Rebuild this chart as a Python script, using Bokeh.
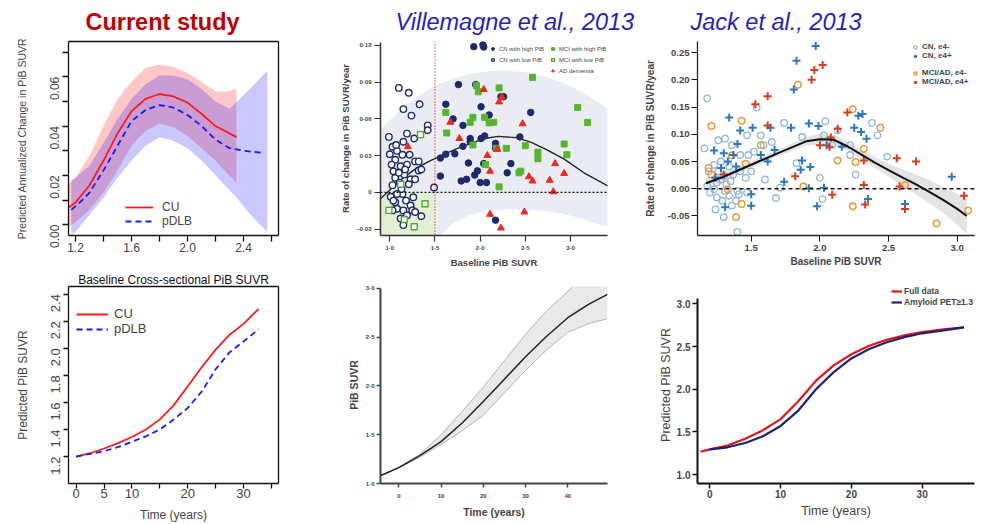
import math
from bokeh.plotting import figure
from bokeh.layouts import row, column
from bokeh.models import (FixedTicker, Legend, LegendItem, Range1d, Span, LinearAxis,
                          NumeralTickFormatter, CustomJSTickFormatter)
from bokeh.embed import file_html
from bokeh.resources import INLINE

SANS = "Liberation Sans"
INK = "#111111"   # near-black stroke colour

# ---------------- Current study: annualized change vs baseline SUVR ----------
cu_x = [1.15, 1.2, 1.3, 1.4, 1.5, 1.6, 1.7, 1.8, 1.9, 2.0, 2.1, 2.2, 2.35]
cu_y = [0.007, 0.009, 0.016, 0.026, 0.037, 0.046, 0.051, 0.053, 0.052, 0.0495, 0.045, 0.040, 0.0355]
cu_band_x = [1.15, 1.2, 1.3, 1.4, 1.5, 1.6, 1.7, 1.8, 1.9, 2.0, 2.1, 2.2, 2.28, 2.35]
cu_band_hi = [0.0165, 0.019, 0.028, 0.040, 0.051, 0.058, 0.0635, 0.065, 0.064, 0.0615, 0.058, 0.054, 0.054, 0.055]
cu_band_lo = [-0.001, 0.001, 0.006, 0.013, 0.022, 0.032, 0.038, 0.041, 0.0395, 0.036, 0.031, 0.026, 0.021, 0.017]

dlb_x = [1.17, 1.25, 1.3, 1.4, 1.5, 1.6, 1.7, 1.8, 1.9, 2.0, 2.1, 2.2, 2.3, 2.4, 2.55]
dlb_y = [0.006, 0.010, 0.013, 0.022, 0.032, 0.042, 0.0465, 0.0485, 0.0475, 0.0445, 0.040, 0.0345, 0.031, 0.030, 0.029]
dlb_band_x = [1.17, 1.2, 1.3, 1.4, 1.5, 1.6, 1.7, 1.8, 1.9, 2.0, 2.1, 2.2, 2.3, 2.35, 2.45, 2.57]
dlb_band_hi = [0.018, 0.019, 0.024, 0.033, 0.043, 0.051, 0.057, 0.0605, 0.0605, 0.059, 0.055, 0.050, 0.047, 0.0498, 0.0553, 0.0625]
dlb_band_lo = [-0.004, -0.003, 0.004, 0.011, 0.019, 0.026, 0.032, 0.0355, 0.034, 0.031, 0.026, 0.020, 0.014, 0.011, 0.004, -0.003]
tl_x_ticks = [1.2, 1.4, 1.6, 1.8, 2.0, 2.2, 2.4, 2.6]
tl_y_ticks = [0, 0.01, 0.02, 0.03, 0.04, 0.05, 0.06, 0.07]

# ---------------- Current study: trajectories over time ----------------------
traj_t = [0, 2.5, 5, 7.5, 10, 12.5, 15, 17.5, 20, 22.5, 25, 27.5, 30, 32.7]
traj_cu = [1.2, 1.225, 1.26, 1.30, 1.345, 1.40, 1.475, 1.58, 1.72, 1.86, 1.99, 2.10, 2.18, 2.29]
traj_dlb = [1.2, 1.22, 1.24, 1.27, 1.31, 1.35, 1.40, 1.475, 1.56, 1.68, 1.845, 1.97, 2.05, 2.14]
bl_x_ticks = [0, 5, 10, 15, 20, 25, 30, 35]
bl_y_ticks = [1.2, 1.4, 1.6, 1.8, 2.0, 2.2, 2.4]

# ---------------- Villemagne et al., 2013 -------------------------------------
vil_cn_hi_x = [1.93, 2.03, 2.04, 1.76, 1.95, 2.01, 1.62, 1.70, 1.81, 1.89, 1.89, 2.01, 2.10, 2.23, 2.26,
               2.56, 2.44, 1.56, 1.62, 1.72, 1.81, 1.87, 1.97, 1.94, 2.00, 2.07, 1.85, 1.79, 1.56, 2.17,
               2.17, 2.04, 2.34, 2.30, 2.17, 2.05]
vil_cn_hi_y = [0.119, 0.1205, 0.1187, 0.088, 0.088, 0.0699, 0.072, 0.060, 0.0547, 0.044, 0.0413, 0.044, 0.0632, 0.0781, 0.0781,
               0.0653, 0.0453, 0.028, 0.0312, 0.0315, 0.0376, 0.024, 0.0176, 0.0141, 0.008, 0.008, 0.0107, 0.0093, 0.0133, 0.040,
               0.036, 0.0235, 0.0235, 0.016, -0.0227, 0.0461]
vil_cn_lo_x = [1.10, 1.21, 1.15, 1.24, 1.33, 1.42, 1.42, 0.99, 1.27, 1.15, 1.03, 1.08, 1.00, 1.06, 1.14, 1.22,
               1.28, 1.32, 1.35, 1.19, 1.12, 1.04, 1.06, 1.16, 1.23, 1.28, 1.11, 1.03, 1.01, 1.06, 1.14, 1.18,
               1.23, 1.08, 1.15, 1.25, 1.03, 1.12, 1.15, 1.28, 1.35, 1.49, 1.21, 1.13, 1.32, 1.02, 1.08, 1.10,
               1.17, 1.04, 1.19, 1.26, 1.07, 1.19]
vil_cn_lo_y = [0.0853, 0.0813, 0.068, 0.0627, 0.072, 0.0547, 0.0507, 0.0453, 0.044, 0.0413, 0.0373, 0.0339, 0.0312, 0.0267, 0.0307, 0.0307,
               0.0253, 0.0179, 0.0187, 0.0227, 0.0213, 0.0173, 0.012, 0.0147, 0.0107, 0.0107, 0.008, 0.0059, -0.0035, -0.008, -0.0013, -0.0067,
               -0.0107, -0.0133, -0.0147, -0.0147, -0.0147, -0.0213, -0.0267, -0.016, -0.0195, 0.004, 0.0067, 0.0027, 0.0253, 0.0227, -0.0013, 0.016,
               0.0187, -0.0067, -0.0187, -0.004, 0.0387, 0.048]
vil_mci_hi_x = [1.96, 1.98, 2.21, 2.58, 1.62, 1.63, 1.89, 1.92, 2.05, 2.10, 2.15, 1.92, 2.18, 2.29, 2.50,
                2.06, 2.43, 2.45, 2.64, 2.64, 2.93, 2.96, 3.08, 3.19, 2.21]
vil_mci_hi_y = [0.0872, 0.0821, 0.0853, 0.0939, 0.0653, 0.0485, 0.0573, 0.0613, 0.0613, 0.0568, 0.0573, 0.0387, 0.036, 0.036, 0.0381,
                0.0227, 0.016, 0.0173, 0.0328, 0.0275, 0.0395, 0.0307, 0.0693, 0.0571, 0.0045]
vil_mci_lo_x = [1.34, 0.99, 1.16, 1.27, 1.39, 1.12]
vil_mci_lo_y = [0.0472, -0.0147, -0.0221, -0.028, -0.0093, 0.0067]
vil_ad_x = [1.20, 1.67, 1.77, 2.04, 2.21, 2.24, 2.19, 2.08, 2.11, 2.54, 2.58, 2.47, 2.77, 2.83, 2.93, 2.81, 2.11, 2.23, 2.49]
vil_ad_y = [0.0373, 0.0573, 0.044, 0.084, 0.0739, 0.0779, 0.0352, 0.0301, 0.0173, 0.0128, 0.0093, 0.056, 0.0099, 0.0235, 0.0155,
            0.0005, -0.0179, -0.0291, -0.016]
vil_fit_x = [0.9, 1.0, 1.15, 1.3, 1.45, 1.6, 1.75, 1.9, 2.05, 2.2, 2.4, 2.56, 2.74, 2.93, 3.15, 3.42]
vil_fit_y = [-0.005, 0.002, 0.012, 0.020, 0.026, 0.031, 0.036, 0.040, 0.044, 0.0457, 0.0447, 0.041, 0.0347, 0.0272, 0.016, 0.005]
vil_band_x = [0.9, 1.1, 1.3, 1.5, 1.7, 1.9, 2.1, 2.3, 2.5, 2.7, 2.9, 3.1, 3.3, 3.42]
vil_band_hi = [0.052, 0.066, 0.078, 0.087, 0.093, 0.097, 0.099, 0.0995, 0.098, 0.095, 0.090, 0.083, 0.074, 0.068]
vil_band_lo = [-0.09, -0.075, -0.06, -0.040, -0.025, -0.018, -0.015, -0.014, -0.014, -0.015, -0.017, -0.021, -0.026, -0.028]
vil_threshold = 1.5

# ---------------- Jack et al., 2013 ---------------------------------------------
jk_cn_neg_x = [1.18, 1.54, 1.74, 2.04, 2.13, 2.38, 2.42, 1.31, 1.26, 1.16, 1.36, 1.47, 1.57, 1.59, 1.65, 1.87,
               2.03, 2.09, 2.22, 2.26, 2.22, 2.49, 2.00, 2.02, 1.68, 1.40, 1.30, 1.24, 1.36, 1.41, 1.47, 1.18,
               1.23, 1.25, 1.28, 1.32, 1.35, 1.37, 1.23, 1.19, 1.28, 1.34, 1.42, 1.46, 1.50, 1.25, 1.29, 1.34,
               1.39, 1.20, 1.60, 1.71, 1.83, 1.42, 1.48, 1.52, 1.30, 1.40, 1.31, 1.26]
jk_cn_neg_y = [0.166, 0.149, 0.121, 0.124, 0.107, 0.121, 0.098, 0.092, 0.089, 0.074, 0.080, 0.098, 0.098, 0.080, 0.086, 0.095,
               0.098, 0.080, 0.062, 0.026, 0.080, 0.059, 0.020, -0.019, -0.017, -0.079, -0.052, -0.038, -0.031, -0.010, -0.007, 0.005,
               -0.001, 0.011, 0.017, 0.008, 0.014, 0.026, 0.044, 0.032, 0.050, 0.041, 0.032, 0.020, 0.032, -0.016, -0.022, -0.013,
               -0.022, -0.007, 0.017, 0.002, 0.047, 0.062, 0.062, 0.068, 0.023, -0.004, -0.004, 0.032]
jk_cn_pos_x = [1.97, 1.83, 1.81, 1.34, 1.51, 1.64, 1.42, 1.40, 1.79, 1.92, 1.99, 1.23, 1.30, 1.37, 1.33, 1.28,
               1.57, 1.62, 1.67, 1.87, 1.86, 1.93, 1.74, 2.05, 2.16, 2.25, 2.28, 2.31, 2.30, 2.34, 2.35, 1.98,
               2.03, 1.92, 1.50, 1.50, 1.31, 2.96, 2.62, 1.24, 1.39]
jk_cn_pos_y = [0.262, 0.235, 0.182, 0.131, 0.112, 0.112, 0.107, 0.082, 0.112, 0.120, 0.115, 0.070, 0.065, 0.062, 0.050, 0.038,
               0.062, 0.050, 0.071, 0.052, 0.035, 0.040, 0.013, 0.080, 0.077, 0.112, 0.134, 0.137, 0.104, 0.092, -0.019, -0.032,
               0.002, 0.001, -0.010, -0.031, -0.034, 0.022, -0.028, 0.020, 0.041]
jk_mci_neg_x = [1.21, 1.43, 1.84, 2.24, 2.44, 2.13, 2.26, 2.32, 2.24, 1.88, 2.85, 3.08, 2.62, 1.39, 1.43, 1.21,
                1.36, 1.46, 1.57, 1.19, 1.33]
jk_mci_neg_y = [0.115, 0.125, 0.191, 0.146, 0.112, 0.052, 0.049, 0.073, -0.032, 0.004, -0.064, -0.040, 0.007, -0.052, -0.028, 0.026,
                0.061, 0.046, 0.080, 0.038, -0.001]
jk_mci_pos_x = [1.96, 2.02, 1.94, 1.62, 1.53, 1.62, 2.08, 2.07, 2.00, 2.13, 2.20, 2.32, 2.32, 2.33, 2.09, 2.56,
                2.70, 2.62, 3.05, 1.82, 1.30, 2.58]
jk_mci_pos_y = [0.218, 0.227, 0.200, 0.170, 0.155, 0.116, 0.094, 0.077, 0.080, 0.110, 0.140, 0.052, 0.007, -0.029, -0.011, 0.056,
                0.050, -0.037, -0.013, 0.023, 0.026, 0.004]
jk_fit_x = [1.17, 1.3, 1.5, 1.7, 1.9, 2.0, 2.1, 2.2, 2.3, 2.4, 2.5, 2.6, 2.7, 2.8, 2.9, 3.0, 3.07]
jk_fit_y = [0.010, 0.022, 0.044, 0.066, 0.087, 0.091, 0.090, 0.078, 0.063, 0.048, 0.034, 0.021, 0.008, -0.006, -0.021, -0.037, -0.050]
jk_fit_lo = [0.000, 0.014, 0.038, 0.060, 0.079, 0.082, 0.081, 0.070, 0.054, 0.038, 0.022, 0.006, -0.010, -0.027, -0.045, -0.066, -0.083]
jk_fit_hi = [0.020, 0.030, 0.050, 0.072, 0.095, 0.101, 0.099, 0.087, 0.072, 0.058, 0.046, 0.036, 0.026, 0.015, 0.003, -0.009, -0.018]

# ---------------- Villemagne trajectory -----------------------------------------
vt_t = [-4.4, 0, 5, 10, 15, 20, 25, 30, 35, 40, 45, 49.4]
vt_y = [1.08, 1.163, 1.285, 1.43, 1.62, 1.84, 2.07, 2.30, 2.51, 2.70, 2.84, 2.94]
vt_hi = [1.08, 1.165, 1.30, 1.50, 1.74, 1.99, 2.26, 2.53, 2.77, 2.97, 3.18, 3.35]
vt_lo = [1.08, 1.16, 1.27, 1.40, 1.54, 1.70, 1.93, 2.16, 2.37, 2.55, 2.64, 2.69]

# ---------------- Jack trajectory ---------------------------------------------
jt_t = [-1.3, 0, 2.5, 5, 7.5, 10, 12.5, 15, 17.5, 20, 22.5, 25, 27.5, 30, 33, 35.9]
jt_full = [1.27, 1.295, 1.34, 1.42, 1.52, 1.65, 1.86, 2.10, 2.28, 2.41, 2.51, 2.58, 2.63, 2.67, 2.70, 2.725]
jt_amy_t = [0, 2.5, 5, 7.5, 10, 12.5, 15, 17.5, 20, 22.5, 25, 27.5, 30, 33, 35.9]
jt_amy = [1.295, 1.32, 1.37, 1.45, 1.57, 1.75, 2.00, 2.20, 2.36, 2.47, 2.55, 2.61, 2.655, 2.69, 2.725]

# Plots in one row share the same top/bottom borders.
TOP_H, TOP_T, TOP_B = 270, 41, 31
BOT_H, BOT_T, BOT_B = 254, 14, 40


def make_fig(w, h, xr, yr, left, right, top, bottom, title=None):
    p = figure(width=w, height=h, x_range=Range1d(*xr), y_range=Range1d(*yr),
               output_backend="svg", toolbar_location=None, title=title,
               min_border_left=left, min_border_right=right,
               min_border_top=top, min_border_bottom=bottom)
    p.xgrid.visible = False
    p.ygrid.visible = False
    p.outline_line_color = None
    p.background_fill_color = "white"
    p.border_fill_color = "white"
    for ax in (p.below[0], p.left[0]):
        ax.axis_label_text_font = SANS
        ax.axis_label_text_font_style = "normal"
        ax.major_label_text_font = SANS
        ax.axis_line_color = INK
        ax.major_tick_line_color = INK
        ax.major_tick_in = 0
        ax.minor_tick_in = 0
        ax.minor_tick_out = 0
    return p


def style_title(p, size, style, color, align, offset, standoff):
    p.title.text_font = SANS
    p.title.text_font_size = size
    p.title.text_font_style = style
    p.title.text_color = color
    p.title.align = align
    p.title.offset = offset
    p.title.standoff = standoff


def add_legend(p, entries, loc, **style):
    items = [LegendItem(label=lab, renderers=[r]) for lab, r in entries]
    lg = Legend(items=items, location=loc, **style)
    p.add_layout(lg)
    return lg


def skip_labels(shown, digits):
    # R drops tick labels that would collide; keep only the listed ones
    vals = ",".join(str(v) for v in shown)
    return CustomJSTickFormatter(
        code=f"const keep = [{vals}]; "
             f"return keep.some(k => Math.abs(k - tick) < 1e-9) ? tick.toFixed({digits}) : '';")


def r_style(p, font_px):
    # base-R look: outward ticks, y labels parallel to the axis
    for ax in (p.below[0], p.left[0]):
        ax.axis_line_width = 1.3
        ax.major_tick_line_width = 1.3
        ax.major_tick_out = 6
        ax.major_label_text_font_size = font_px
    p.left[0].major_label_orientation = math.pi / 2


def close_box(p):
    # plain lines along the top and right sides complete the R-style box
    for side in ("above", "right"):
        edge = LinearAxis(ticker=FixedTicker(ticks=[]), axis_line_color=INK, axis_line_width=1.3,
                          major_tick_out=0, major_tick_in=0, minor_tick_out=0, minor_tick_in=0,
                          major_label_standoff=0)
        p.add_layout(edge, side)


# ---------- top left ----------
tl = make_fig(330, TOP_H, (1.15, 2.65), (-0.0044, 0.0743), 68, 52, TOP_T, TOP_B, title="Current study")
r_style(tl, "12px")
style_title(tl, "23.5px", "bold", "#c00000", "left", 17, 13)
tl.varea(x=cu_band_x, y1=cu_band_lo, y2=cu_band_hi, fill_color="red", fill_alpha=0.22)
tl.varea(x=dlb_band_x, y1=dlb_band_lo, y2=dlb_band_hi, fill_color="blue", fill_alpha=0.21)
r_cu = tl.line(cu_x, cu_y, line_color="#ff1a1a", line_width=1.8)
r_dlb = tl.line(dlb_x, dlb_y, line_color="#1a1aff", line_width=1.8, line_dash="6 4")
tl_xax, tl_yax = tl.below[0], tl.left[0]
tl_xax.ticker = FixedTicker(ticks=tl_x_ticks)
tl_yax.ticker = FixedTicker(ticks=tl_y_ticks)
tl_xax.formatter = skip_labels([1.2, 1.6, 2.0, 2.4], 1)
tl_yax.formatter = skip_labels([0, 0.02, 0.04, 0.06], 2)
tl_yax.axis_label = "Predicted Annualized Change in PiB SUVR"
tl_yax.axis_label_text_font_size = "10.5px"
tl_yax.major_label_standoff = 8
tl_yax.axis_label_standoff = 15
tl_xax.major_label_standoff = 1
add_legend(tl, [("CU", r_cu), ("pDLB", r_dlb)], (57, 7),
           label_text_font=SANS, label_text_font_size="12px", label_height=12,
           glyph_width=28, glyph_height=12, label_standoff=9, label_width=44,
           spacing=0, padding=3, margin=0, border_line_color=None,
           background_fill_color="white", background_fill_alpha=1)
close_box(tl)

# ---------- top middle (Villemagne) ----------
tm = make_fig(310, TOP_H, (0.897, 3.41), (-0.0352, 0.1232), 50, 33, TOP_T, TOP_B,
              title="Villemagne et al., 2013")
style_title(tm, "23.5px", "italic", "#1f1fc4", "left", 15, 13)
tm.varea(x=vil_band_x, y1=vil_band_lo, y2=vil_band_hi, fill_color="#e9edf3")
tm.quad(left=[0.897], right=[vil_threshold], bottom=[-0.04], top=[0], fill_color="#e2efd2", line_color=None)
tm.add_layout(Span(location=vil_threshold, dimension="height", line_color="#e0201c", line_width=1.2, line_dash="1 2"))
tm.add_layout(Span(location=0, dimension="width", line_color=INK, line_width=1.4, line_dash="2 2"))
tm.line(vil_fit_x, vil_fit_y, line_color="#222222", line_width=1.4)
g_cnlo = tm.scatter(vil_cn_lo_x, vil_cn_lo_y, marker="circle", size=6.5, fill_color="white",
                    line_color="#1d2b6e", line_width=1.4)
g_mcilo = tm.scatter(vil_mci_lo_x, vil_mci_lo_y, marker="square", size=6, fill_color="white",
                     line_color="#4bab25", line_width=1.4)
g_cnhi = tm.scatter(vil_cn_hi_x, vil_cn_hi_y, marker="circle", size=6.5, fill_color="#1d2b6e", line_color="#1d2b6e")
g_mcihi = tm.scatter(vil_mci_hi_x, vil_mci_hi_y, marker="square", size=6, fill_color="#55b52d", line_color="#55b52d")
g_ad = tm.scatter(vil_ad_x, vil_ad_y, marker="triangle", size=7, fill_color="#ee2a1f", line_color="#ee2a1f")
for ax in (tm.xaxis[0], tm.yaxis[0]):
    ax.axis_line_color = "#333333"
    ax.axis_line_width = 1.5
    ax.major_tick_line_color = "#333333"
    ax.major_tick_line_width = 1.2
    ax.major_tick_out = 6
    ax.major_label_text_font_size = "6px"
    ax.major_label_text_font_style = "bold"
    ax.axis_label_text_font_style = "bold"
    ax.axis_label_text_font_size = "9.5px"
tm.yaxis.bounds = (-0.0352, 0.1225)
tm.xaxis.ticker = FixedTicker(ticks=[1.0, 1.5, 2.0, 2.5, 3.0])
tm.yaxis.ticker = FixedTicker(ticks=[-0.03, 0, 0.03, 0.06, 0.09, 0.12])
tm.xaxis.formatter = CustomJSTickFormatter(code="return tick.toFixed(1).replace('.', '\u00b7')")
tm.yaxis.formatter = CustomJSTickFormatter(
    code="if (Math.abs(tick) < 1e-9) return '0'; return (tick < 0 ? '\u2013' : '') + Math.abs(tick).toFixed(2).replace('.', '\u00b7')")
tm.yaxis.axis_label = "Rate of change in PiB SUVR/year"
tm.xaxis.axis_label = "Baseline PiB SUVR"
tm.yaxis.major_label_standoff = 3
tm.yaxis.axis_label_standoff = 2
tm.xaxis.major_label_standoff = 3
tm.xaxis.axis_label_standoff = 3
vil_leg = dict(label_text_font=SANS, label_text_font_size="6px", label_height=11,
               glyph_width=7, glyph_height=7, label_standoff=3, spacing=0, padding=0, margin=0,
               border_line_color=None, background_fill_alpha=0)
add_legend(tm, [("CN with high PiB", g_cnhi), ("CN with low PiB", g_cnlo)], (109, 170), **vil_leg)
add_legend(tm, [("MCI with high PiB", g_mcihi), ("MCI with low PiB", g_mcilo), ("AD dementia", g_ad)],
           (169, 159), **vil_leg)

# ---------- top right (Jack) ----------
tr = make_fig(342, TOP_H, (1.109, 3.126), (-0.0858, 0.2703), 57, 8, TOP_T, TOP_B,
              title="Jack et al., 2013")
style_title(tr, "23.5px", "italic", "#1f1fc4", "left", -7, 13)
tr.varea(x=jk_fit_x, y1=jk_fit_lo, y2=jk_fit_hi, fill_color="#d9d9d9", fill_alpha=0.75)
tr.add_layout(Span(location=0, dimension="width", line_color=INK, line_width=1.4, line_dash="4 3"))
j1 = tr.scatter(jk_cn_neg_x, jk_cn_neg_y, marker="circle", size=6.5, fill_color=None,
                line_color="#8db7de", line_width=1.3)
j3 = tr.scatter(jk_mci_neg_x, jk_mci_neg_y, marker="circle", size=6.5, fill_color=None,
                line_color="#eb9a3b", line_width=1.5)
j2 = tr.scatter(jk_cn_pos_x, jk_cn_pos_y, marker="cross", size=8, line_color="#2b78c2", line_width=2)
j4 = tr.scatter(jk_mci_pos_x, jk_mci_pos_y, marker="cross", size=8, line_color="#db3b1c", line_width=2)
tr.line(jk_fit_x, jk_fit_y, line_color=INK, line_width=2)
for ax in (tr.xaxis[0], tr.yaxis[0]):
    ax.axis_line_color = "#222222"
    ax.axis_line_width = 1.3
    ax.major_tick_out = 6
    ax.major_label_text_font_size = "9.5px"
    ax.major_label_text_font_style = "bold"
    ax.axis_label_text_font_style = "bold"
    ax.axis_label_text_font_size = "10px"
tr.xaxis.ticker = FixedTicker(ticks=[1.5, 2.0, 2.5, 3.0])
tr.xaxis.formatter = NumeralTickFormatter(format="0.0")
tr.yaxis.ticker = FixedTicker(ticks=[-0.05, 0, 0.05, 0.10, 0.15, 0.20, 0.25])
tr.yaxis.formatter = NumeralTickFormatter(format="0.00")
tr.xaxis.axis_label = "Baseline PiB SUVR"
tr.yaxis.axis_label = "Rate of change in PiB SUVR/year"
tr.yaxis.major_label_standoff = 2
tr.yaxis.axis_label_standoff = 9
tr.xaxis.major_label_standoff = 3
tr.xaxis.axis_label_standoff = 2
jk_leg = dict(label_text_font=SANS, label_text_font_size="8px", label_text_font_style="bold",
              label_height=9, glyph_width=8, glyph_height=8, label_standoff=3, spacing=0,
              padding=0, margin=0, border_line_color=None, background_fill_alpha=0)
add_legend(tr, [("CN, e4-", j1), ("CN, e4+", j2)], (214, 175), **jk_leg)
add_legend(tr, [("MCI/AD, e4-", j3), ("MCI/AD, e4+", j4)], (214, 149), **jk_leg)

# ---------- bottom left ----------
bl = make_fig(330, BOT_H, (-1.38, 36.27), (1.0015, 2.456), 68, 52, BOT_T, BOT_B,
              title="Baseline Cross-sectional PiB SUVR")
r_style(bl, "13px")
style_title(bl, "12px", "normal", INK, "center", 0, 0)
b_cu = bl.line(traj_t, traj_cu, line_color="#ff1a1a", line_width=1.8)
b_dlb = bl.line(traj_t, traj_dlb, line_color="#1a1aff", line_width=1.8, line_dash="6 4")
bl_xax, bl_yax = bl.below[0], bl.left[0]
bl_xax.ticker = FixedTicker(ticks=bl_x_ticks)
bl_xax.formatter = skip_labels([0, 5, 10, 20, 30], 0)
bl_yax.ticker = FixedTicker(ticks=bl_y_ticks)
bl_yax.formatter = NumeralTickFormatter(format="0.0")
bl_yax.axis_label = "Predicted PiB SUVR"
bl_xax.axis_label = "Time (years)"
bl_yax.axis_label_text_font_size = "12px"
bl_xax.axis_label_text_font_size = "12px"
bl_xax.major_tick_out = 5
bl_yax.major_tick_out = 5
bl_yax.major_label_standoff = 8
bl_yax.axis_label_standoff = 14
bl_xax.major_label_standoff = 0
bl_xax.axis_label_standoff = 7
add_legend(bl, [("CU", b_cu), ("pDLB", b_dlb)], (8, 147),
           label_text_font=SANS, label_text_font_size="13px", label_height=13,
           glyph_width=32, glyph_height=12, label_standoff=6, label_width=40,
           spacing=0, padding=3, margin=0, border_line_color=None,
           background_fill_color="white", background_fill_alpha=1)
close_box(bl)

# ---------- bottom middle (Villemagne trajectory) ----------
bm = make_fig(310, BOT_H, (-4.33, 49.4), (1.0, 3.02), 50, 33, BOT_T, BOT_B)
bm.varea(x=vt_t, y1=vt_lo, y2=vt_hi, fill_color="#e9e9e9")
bm.line(vt_t, vt_hi, line_color="#b5b5b5", line_width=1)
bm.line(vt_t, vt_lo, line_color="#b5b5b5", line_width=1)
bm.line(vt_t, vt_y, line_color="#222222", line_width=1.5)
for ax in (bm.xaxis[0], bm.yaxis[0]):
    ax.axis_line_color = "#444444"
    ax.axis_line_width = 2
    ax.major_tick_line_color = "#444444"
    ax.major_tick_line_width = 1.5
    ax.major_tick_out = 4
    ax.major_label_text_font_size = "6px"
    ax.major_label_text_font_style = "bold"
    ax.axis_label_text_font_style = "bold"
    ax.axis_label_text_font_size = "10.5px"
bm.yaxis.bounds = (1.0, 3.0)
bm.xaxis.ticker = FixedTicker(ticks=[0, 10, 20, 30, 40])
bm.yaxis.ticker = FixedTicker(ticks=[1.0, 1.5, 2.0, 2.5, 3.0])
bm.yaxis.formatter = CustomJSTickFormatter(code="return tick.toFixed(1).replace('.', '\u00b7')")
bm.yaxis.axis_label = "PiB SUVR"
bm.xaxis.axis_label = "Time (years)"
bm.yaxis.major_label_standoff = 2
bm.yaxis.axis_label_standoff = 3
bm.xaxis.major_label_standoff = 6
bm.xaxis.axis_label_standoff = 5

# ---------- bottom right (Jack trajectory) ----------
br = make_fig(342, BOT_H, (-1.74, 37.39), (0.896, 3.203), 57, 8, BOT_T, BOT_B)
k_full = br.line(jt_t, jt_full, line_color="#e8141c", line_width=2.2)
k_amy = br.line(jt_amy_t, jt_amy, line_color="#1e236e", line_width=2.2)
for ax in (br.xaxis[0], br.yaxis[0]):
    ax.axis_line_width = 2
    ax.major_tick_line_width = 1.5
    ax.major_tick_out = 5
    ax.major_label_text_font_size = "10px"
    ax.major_label_text_font_style = "bold"
    ax.axis_label_text_font_size = "12.5px"
br.yaxis.bounds = (0.896, 3.066)
br.xaxis.ticker = FixedTicker(ticks=[0, 10, 20, 30])
br.yaxis.ticker = FixedTicker(ticks=[1.0, 1.5, 2.0, 2.5, 3.0])
br.yaxis.formatter = NumeralTickFormatter(format="0.0")
br.yaxis.axis_label = "Predicted PiB SUVR"
br.xaxis.axis_label = "Time (years)"
br.yaxis.major_label_standoff = 2
br.yaxis.axis_label_standoff = 1
br.xaxis.major_label_standoff = 1
br.xaxis.axis_label_standoff = 3
add_legend(br, [("Full data", k_full), ("Amyloid PET\u22651.3", k_amy)], (194, 176),
           label_text_font=SANS, label_text_font_size="8.5px", label_text_font_style="bold",
           label_height=11, glyph_width=11, glyph_height=10, label_standoff=2, spacing=0,
           padding=0, margin=0, border_line_color=None, background_fill_alpha=0)

page = column(row(tl, tm, tr, spacing=0), row(bl, bm, br, spacing=0), spacing=0)
open("out.html", "w").write(file_html(page, INLINE))
